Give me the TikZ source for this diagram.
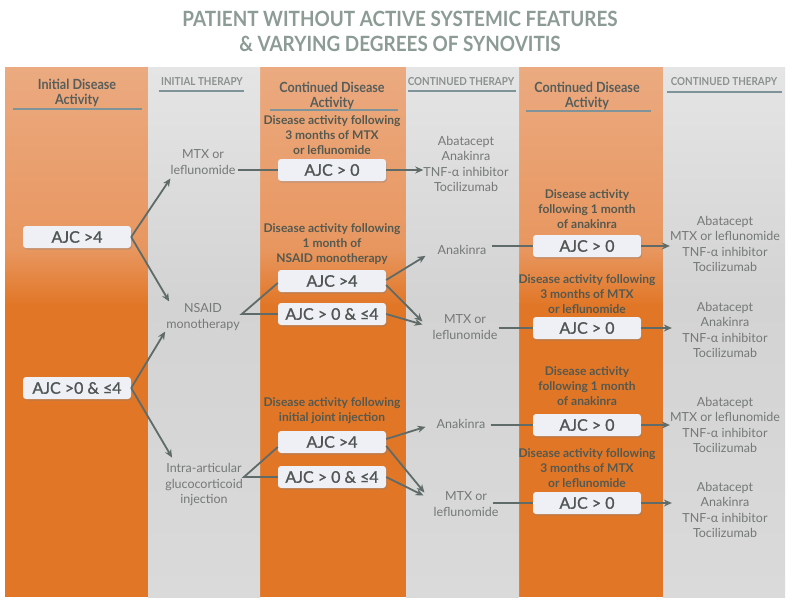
\documentclass[tikz,border=0pt]{standalone}
\usepackage{fontspec}
\setmainfont{Lato}
\newfontfamily\condfont[FakeStretch=0.9]{Lato}
\newfontfamily\boxfont[FakeBold=1.2]{Lato}
\usetikzlibrary{arrows.meta,shadows,calc}
\definecolor{peachtop}{HTML}{EBAA80}
\definecolor{peachlow}{HTML}{E8965F}
\definecolor{deeporange}{HTML}{E17626}
\definecolor{graytop}{HTML}{E5E5E5}
\definecolor{graymid}{HTML}{D3D3D3}
\definecolor{graylow}{HTML}{DADADA}
\definecolor{titlegray}{HTML}{8C9B94}
\definecolor{headdark}{HTML}{575D5A}
\definecolor{headlight}{HTML}{8A918E}
\definecolor{rulecol}{HTML}{7E9499}
\definecolor{boxfill}{HTML}{EEF0F5}
\definecolor{boxtext}{HTML}{4F5553}
\definecolor{stagetext}{HTML}{55594F}
\definecolor{drugtext}{HTML}{737976}
\definecolor{linkcol}{HTML}{5E6B68}

\begin{document}
\begin{tikzpicture}[x=1pt,y=-1pt,
	titlefnt/.style={align=center, text=titlegray, font=\condfont\bfseries\fontsize{21}{25}\selectfont},
	colhead/.style={align=center, text=headdark, font=\condfont\bfseries\fontsize{14}{15}\selectfont},
	capshead/.style={text=headlight, font=\condfont\bfseries\fontsize{11}{12}\selectfont},
	underline/.style={draw=rulecol, line width=1.2pt},
	ajc/.style={fill=boxfill, rounded corners=3pt, minimum width=108pt, minimum height=22pt, inner sep=0pt, text=boxtext, font=\boxfont\fontsize{16}{16}\selectfont, drop shadow={shadow xshift=1pt, shadow yshift=-1.5pt, opacity=0.35}},
	stage/.style={align=center, text=stagetext, font=\bfseries\fontsize{12}{15}\selectfont, inner sep=0pt},
	drug/.style={align=center, text=drugtext, font=\fontsize{12.5}{15.5}\selectfont, inner sep=0pt},
	link/.style={draw=linkcol, line width=1.8pt},
	arr/.style={link, -{Stealth[length=8pt, width=7pt]}}]
	\useasboundingbox (0,0) rectangle (800,605);
	\fill[white] (0,0) rectangle (800,605);
	\foreach \xa/\xb in {5/148,260/406,519/663}{
		\shade[top color=peachtop, bottom color=peachlow] (\xa,67) rectangle (\xb,251);
		\shade[top color=peachlow, bottom color=deeporange] (\xa,250) rectangle (\xb,306);
		\fill[deeporange] (\xa,305) rectangle (\xb,597);
	}
	\foreach \xa/\xb in {148/260,406/519,663/785}{
		\shade[top color=graytop, bottom color=graymid] (\xa,67) rectangle (\xb,301);
		\shade[top color=graymid, bottom color=graylow] (\xa,300) rectangle (\xb,597);
	}

	\node[titlefnt] (title) at (400,31) {PATIENT WITHOUT ACTIVE SYSTEMIC FEATURES\\\& VARYING DEGREES OF SYNOVITIS};

	\node[colhead] (hinit) at (77,93) {Initial Disease\\Activity};
	\node[capshead] (hinther) at (202,82) {INITIAL THERAPY};
	\node[colhead] (hcont) at (332,96) {Continued Disease\\Activity};
	\node[capshead] (hcther) at (461,82) {CONTINUED THERAPY};
	\node[colhead] (hcontb) at (587,96) {Continued Disease\\Activity};
	\node[capshead] (hctherb) at (724,82) {CONTINUED THERAPY};
	\draw[underline] (13,109) -- (142,109);
	\draw[underline] (159,91) -- (244,91);
	\draw[underline] (270,110) -- (398,110);
	\draw[underline] (408,91) -- (516,91);
	\draw[underline] (526,111) -- (651,111);
	\draw[underline] (667,92) -- (782,92);

	\node[ajc] (high) at (77,237) {AJC >4};
	\node[ajc] (low) at (77,388) {AJC >0 \& ≤4};

	\node[drug] (mtx) at (203,162) {MTX or\\leflunomide};
	\node[drug] (nsaid) at (203,317) {NSAID\\monotherapy};
	\node[drug] (inj) at (204,485) {Intra-articular\\glucocorticoid\\injection};

	\node[stage] (smtx) at (332,135) {Disease activity following\\3 months of MTX\\or leflunomide};
	\node[ajc] (mtxpos) at (332,170) {AJC > 0};
	\node[stage] (snsaid) at (332,244) {Disease activity following\\1 month of\\NSAID monotherapy};
	\node[ajc] (nsaidhigh) at (332,281) {AJC >4};
	\node[ajc] (nsaidlow) at (332,314) {AJC > 0 \& ≤4};
	\node[stage] (sinj) at (332,411) {Disease activity following\\initial joint injection};
	\node[ajc] (injhigh) at (332,442) {AJC >4};
	\node[ajc] (injlow) at (332,477) {AJC > 0 \& ≤4};

	\node[drug] (biolA) at (466,164) {Abatacept\\Anakinra\\TNF-α inhibitor\\Tocilizumab};
	\node[drug] (anakA) at (462,250) {Anakinra};
	\node[drug] (mtxA) at (465,327) {MTX or\\leflunomide};
	\node[drug] (anakB) at (461,424) {Anakinra};
	\node[drug] (mtxB) at (466,504) {MTX or\\leflunomide};

	\node[stage] (sanakA) at (587,209) {Disease activity\\following 1 month\\of anakinra};
	\node[ajc] (anakApos) at (587,246) {AJC > 0};
	\node[stage] (smtxA) at (587,294) {Disease activity following\\3 months of MTX\\or leflunomide};
	\node[ajc] (mtxApos) at (587,328) {AJC > 0};
	\node[stage] (sanakB) at (587,386) {Disease activity\\following 1 month\\of anakinra};
	\node[ajc] (anakBpos) at (587,425) {AJC > 0};
	\node[stage] (smtxB) at (587,468) {Disease activity following\\3 months of MTX\\or leflunomide};
	\node[ajc] (mtxBpos) at (587,503) {AJC > 0};

	\node[drug] (finA) at (725,244) {Abatacept\\MTX or leflunomide\\TNF-α inhibitor\\Tocilizumab};
	\node[drug] (finB) at (725,330) {Abatacept\\Anakinra\\TNF-α inhibitor\\Tocilizumab};
	\node[drug] (finC) at (725,425) {Abatacept\\MTX or leflunomide\\TNF-α inhibitor\\Tocilizumab};
	\node[drug] (finD) at (725,510) {Abatacept\\Anakinra\\TNF-α inhibitor\\Tocilizumab};

	\draw[arr] (high.east) -- ([yshift=-4pt]mtx.south west);
	\draw[arr] (high.east) -- ([shift={(3pt,2pt)}]nsaid.north west);
	\draw[arr] (low.east) -- ([shift={(-1pt,-1pt)}]nsaid.south west);
	\draw[arr] (low.east) -- ([shift={(7pt,6pt)}]inj.north west);

	\draw[link] ($(mtx.east |- mtxpos.west)+(2,0)$) -- (mtxpos.west);
	\draw[link] ([yshift=-2pt]nsaidhigh.west) -- ($(nsaid.east |- nsaidlow.west)+(2,0)$) -- (nsaidlow.west);
	\draw[link] ([yshift=-5pt]injhigh.west) -- ($(inj.east |- injlow.west)+(1,0)$) -- (injlow.west);

	\draw[arr] (mtxpos.east) -- (mtxpos.east -| biolA.west);
	\draw[arr] ([yshift=1pt]nsaidhigh.east) -- ([shift={(-12pt,-1pt)}]anakA.south west);
	\draw[arr] ([yshift=-4pt]nsaidhigh.east) -- ([shift={(-10pt,-7pt)}]mtxA.north west);
	\draw[arr] (nsaidlow.east) -- ([shift={(-10pt,-10pt)}]mtxA.north west);
	\draw[arr] ([yshift=3pt]injhigh.east) -- ([shift={(-11pt,2pt)}]anakB.south west);
	\draw[arr] ([yshift=-4pt]injhigh.east) -- ([shift={(-9pt,-1pt)}]mtxB.north west);
	\draw[arr] (injlow.east) -- ([shift={(-10pt,-4pt)}]mtxB.north west);

	\draw[link] ($(anakA.east |- anakApos.west)+(5,0)$) -- (anakApos.west);
	\draw[link] ($(mtxA.east |- mtxApos.west)+(1,0)$) -- (mtxApos.west);
	\draw[link] ($(anakB.east |- anakBpos.west)+(5,0)$) -- (anakBpos.west);
	\draw[link] ($(mtxB.east |- mtxBpos.west)+(-6,0)$) -- (mtxBpos.west);

	\draw[arr] (anakApos.east) -- (anakApos.east -| finA.west);
	\draw[arr] (mtxApos.east) -- ([xshift=2pt]mtxApos.east -| finA.west);
	\draw[arr] (anakBpos.east) -- (anakBpos.east -| finC.west);
	\draw[arr] (mtxBpos.east) -- ([xshift=2pt]mtxBpos.east -| finC.west);
\end{tikzpicture}
\end{document}
